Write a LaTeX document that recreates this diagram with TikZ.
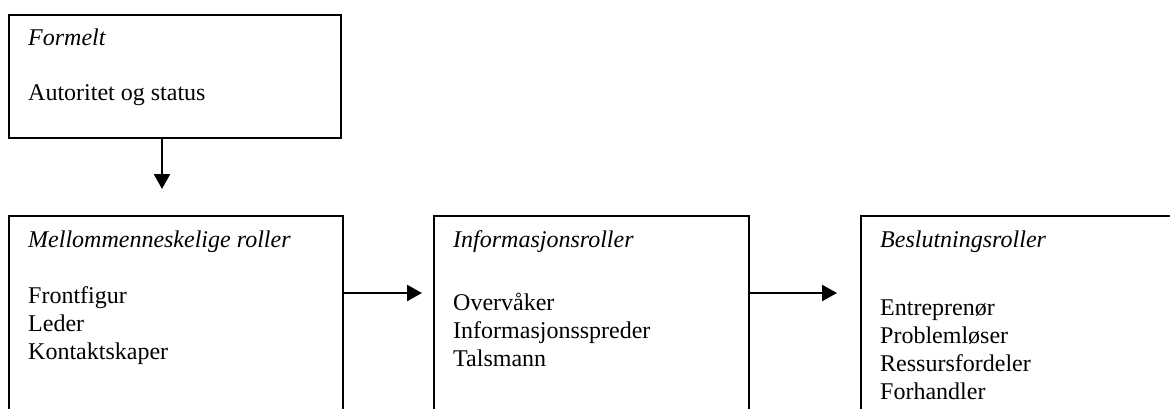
\documentclass[tikz,border=0pt]{standalone}
\usepackage{fontspec}
\setmainfont{Liberation Serif}
\usetikzlibrary{arrows.meta,calc}
\begin{document}
\begin{tikzpicture}[x=1pt,y=-1pt,
  boxstyle/.style={draw,line width=2pt,rectangle,inner sep=0pt},
  txt/.style={anchor=base west,inner sep=0pt,font=\fontsize{24}{28}\selectfont},
  arr/.style={line width=2.4pt,-{Triangle[length=15pt,width=16pt]}}]
\useasboundingbox (0,0) rectangle (1170,408);
\clip (0,0) rectangle (1170,408);
% boxes
\node[boxstyle,minimum width=332pt,minimum height=123pt,anchor=north west] (top) at (8,14) {};
\node[boxstyle,minimum width=334pt,minimum height=205pt,anchor=north west] (b1) at (8,215) {};
\node[boxstyle,minimum width=315pt,minimum height=205pt,anchor=north west] (b2) at (433,215) {};
\node[boxstyle,minimum width=325pt,minimum height=205pt,anchor=north west] (b3) at (860,215) {};
% texts
\node[txt] (t0) at (28,45) {\itshape Formelt};
\node[txt] (t1) at (28,100) {Autoritet og status};
\node[txt] (h1) at (28,247) {\itshape Mellommenneskelige roller};
\node[txt] (l11) at (28,303) {Frontfigur};
\node[txt] (l12) at (28,331) {Leder};
\node[txt] (l13) at (28,359) {Kontaktskaper};
\node[txt] (h2) at (453,247) {\itshape Informasjonsroller};
\node[txt] (l21) at (453,310) {Overvåker};
\node[txt] (l22) at (453,338) {Informasjonsspreder};
\node[txt] (l23) at (453,366) {Talsmann};
\node[txt] (h3) at (880,247) {\itshape Beslutningsroller};
\node[txt] (l31) at (880,315) {Entreprenør};
\node[txt] (l32) at (880,343) {Problemløser};
\node[txt] (l33) at (880,371) {Ressursfordeler};
\node[txt] (l34) at (880,399) {Forhandler};
% connectors
\coordinate (ax) at (162,0);
\coordinate (ay) at (0,293);
\draw[arr,shorten >=26pt] (top.south -| ax) -- (b1.north -| ax);
\draw[arr,shorten >=11pt] (b1.east |- ay) -- (b2.west |- ay);
\draw[arr,shorten >=23pt] (b2.east |- ay) -- (b3.west |- ay);
\end{tikzpicture}
\end{document}
